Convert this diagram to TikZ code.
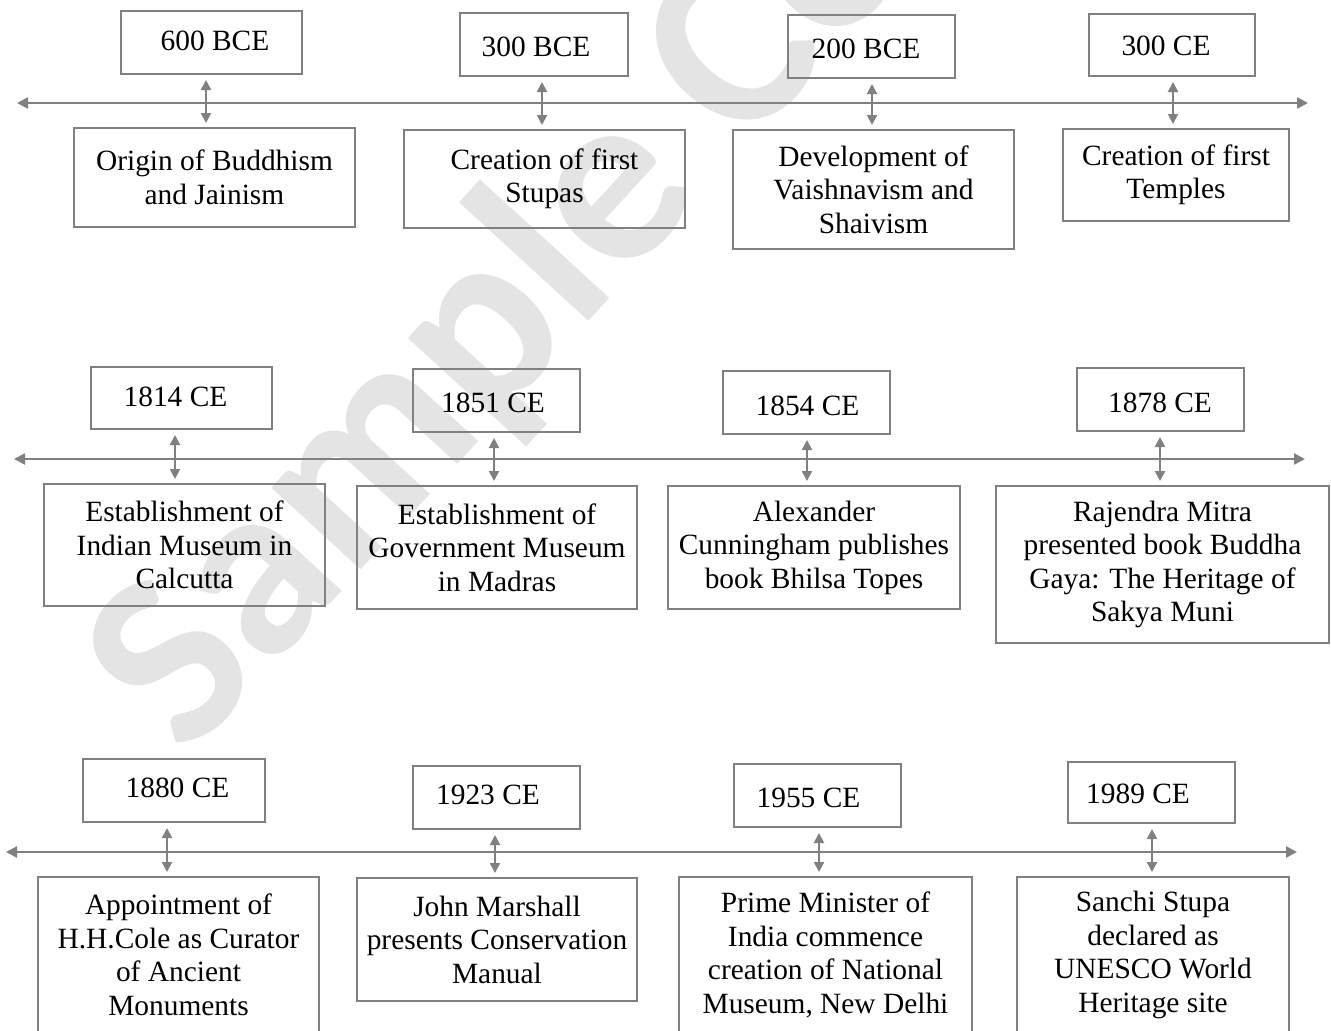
\documentclass[tikz,border=0pt]{standalone}
\usepackage{fontspec}
\setmainfont{Liberation Serif}
\newfontfamily\wmfont{Carlito}
\usetikzlibrary{arrows.meta}
\definecolor{wmgray}{RGB}{228,228,228}
\definecolor{lngray}{RGB}{128,128,128}
\begin{document}
\begin{tikzpicture}[x=1pt,y=-1pt,
  evbox/.style={draw=lngray, line width=2pt, inner sep=0pt, align=center,
    font=\fontsize{29.4}{33.5}\selectfont},
  yrbox/.style={draw=lngray, line width=2pt, inner sep=0pt},
  yrtext/.style={inner sep=0pt, anchor=base, font=\fontsize{29.4}{33.5}\selectfont},
  timeline/.style={draw=lngray, line width=2.4pt,
    {Triangle[length=11pt,width=11pt]}-{Triangle[length=11pt,width=11pt]}},
  linkarrow/.style={draw=lngray, line width=2pt,
    {Triangle[length=10pt,width=10pt]}-{Triangle[length=10pt,width=10pt]},
    shorten <=5pt, shorten >=4pt},
  watermark/.style={text=wmgray, inner sep=0pt, rotate=47.5,
    font=\wmfont\bfseries\fontsize{250}{250}\selectfont},
]
\useasboundingbox (0,0) rectangle (1331,1031);
\clip (0,0) rectangle (1331,1031);
\fill[white] (0,0) rectangle (1331,1031);

% watermark
\node[watermark] (wm) at (590,219) {Sample Copy};

% ---------------- row 1 ----------------
\coordinate (r1l) at (17,103);
\coordinate (r1r) at (1308,103);
\draw[timeline] (r1l) -- (r1r);

\node[yrbox, minimum width=181pt, minimum height=63pt] (y1) at (211.5,42.5) {};
\node[yrbox, minimum width=168pt, minimum height=63pt] (y2) at (544,44.5) {};
\node[yrbox, minimum width=167pt, minimum height=63pt] (y3) at (871.5,46.5) {};
\node[yrbox, minimum width=166pt, minimum height=62pt] (y4) at (1172,45) {};
\node[yrtext] (t1) at (215,50) {600 BCE};
\node[yrtext] (t2) at (536,56) {300 BCE};
\node[yrtext] (t3) at (866,58) {200 BCE};
\node[yrtext] (t4) at (1166,55) {300 CE};

\node[evbox, minimum width=281pt, minimum height=99pt] (e1) at (214.5,177.5) {Origin of Buddhism\\and Jainism};
\node[evbox, minimum width=281pt, minimum height=98pt] (e2) at (544.5,179) {Creation of first\\Stupas};
\node[evbox, minimum width=281pt, minimum height=119pt] (e3) at (873.5,189.5) {Development of\\Vaishnavism and\\Shaivism};
\node[evbox, minimum width=226pt, minimum height=92pt] (e4) at (1176,175) {Creation of first\\Temples};

\coordinate (a1) at (206,0);
\coordinate (a2) at (542,0);
\coordinate (a3) at (872,0);
\coordinate (a4) at (1173,0);
\draw[linkarrow] (y1.south -| a1) -- (e1.north -| a1);
\draw[linkarrow] (y2.south -| a2) -- (e2.north -| a2);
\draw[linkarrow] (y3.south -| a3) -- (e3.north -| a3);
\draw[linkarrow] (y4.south -| a4) -- (e4.north -| a4);

% ---------------- row 2 ----------------
\coordinate (r2l) at (14,459);
\coordinate (r2r) at (1305,459);
\draw[timeline] (r2l) -- (r2r);

\node[yrbox, minimum width=181pt, minimum height=62pt] (y5) at (181.5,398) {};
\node[yrbox, minimum width=167pt, minimum height=63pt] (y6) at (496.5,400.5) {};
\node[yrbox, minimum width=167pt, minimum height=63pt] (y7) at (806.5,402.5) {};
\node[yrbox, minimum width=167pt, minimum height=63pt] (y8) at (1160.5,399.5) {};
\node[yrtext] (t5) at (175.5,406) {1814 CE};
\node[yrtext] (t6) at (493,412) {1851 CE};
\node[yrtext] (t7) at (807.5,415) {1854 CE};
\node[yrtext] (t8) at (1160,412) {1878 CE};

\node[evbox, minimum width=281pt, minimum height=122pt] (e5) at (184.5,545) {Establishment of\\Indian Museum in\\Calcutta};
\node[evbox, minimum width=280pt, minimum height=123pt] (e6) at (497,547.5) {Establishment of\\Government Museum\\in Madras};
\node[evbox, minimum width=292pt, minimum height=123pt] (e7) at (814,547.5) {Alexander\\Cunningham publishes\\book Bhilsa Topes};
\node[evbox, minimum width=333pt, minimum height=157pt] (e8) at (1162.5,564.5) {Rajendra Mitra\\presented book Buddha\\Gaya: The Heritage of\\Sakya Muni};

\coordinate (a5) at (175,0);
\coordinate (a6) at (494,0);
\coordinate (a7) at (807,0);
\coordinate (a8) at (1160,0);
\draw[linkarrow] (y5.south -| a5) -- (e5.north -| a5);
\draw[linkarrow] (y6.south -| a6) -- (e6.north -| a6);
\draw[linkarrow] (y7.south -| a7) -- (e7.north -| a7);
\draw[linkarrow] (y8.south -| a8) -- (e8.north -| a8);

% ---------------- row 3 ----------------
\coordinate (r3l) at (6,852);
\coordinate (r3r) at (1297,852);
\draw[timeline] (r3l) -- (r3r);

\node[yrbox, minimum width=182pt, minimum height=63pt] (y9) at (174,790.5) {};
\node[yrbox, minimum width=167pt, minimum height=63pt] (y10) at (496.5,797.5) {};
\node[yrbox, minimum width=167pt, minimum height=63pt] (y11) at (817.5,795.5) {};
\node[yrbox, minimum width=167pt, minimum height=61pt] (y12) at (1151.5,792.5) {};
\node[yrtext] (t9) at (177.5,797) {1880 CE};
\node[yrtext] (t10) at (488,804) {1923 CE};
\node[yrtext] (t11) at (808.5,807) {1955 CE};
\node[yrtext] (t12) at (1138,803) {1989 CE};

\node[evbox, minimum width=281pt, minimum height=156pt] (e9) at (178.5,955) {Appointment of\\H.H.Cole as Curator\\of Ancient\\Monuments};
\node[evbox, minimum width=280pt, minimum height=123pt] (e10) at (497,939.5) {John Marshall\\presents Conservation\\Manual};
\node[evbox, minimum width=293pt, minimum height=156pt] (e11) at (825.5,955) {Prime Minister of\\India commence\\creation of National\\Museum, New Delhi};
\node[evbox, minimum width=272pt, minimum height=156pt] (e12) at (1153,955) {Sanchi Stupa\\declared as\\UNESCO World\\Heritage site};

\coordinate (a9) at (167,0);
\coordinate (a10) at (495,0);
\coordinate (a11) at (819,0);
\coordinate (a12) at (1152,0);
\draw[linkarrow] (y9.south -| a9) -- (e9.north -| a9);
\draw[linkarrow] (y10.south -| a10) -- (e10.north -| a10);
\draw[linkarrow] (y11.south -| a11) -- (e11.north -| a11);
\draw[linkarrow] (y12.south -| a12) -- (e12.north -| a12);
\end{tikzpicture}
\end{document}
